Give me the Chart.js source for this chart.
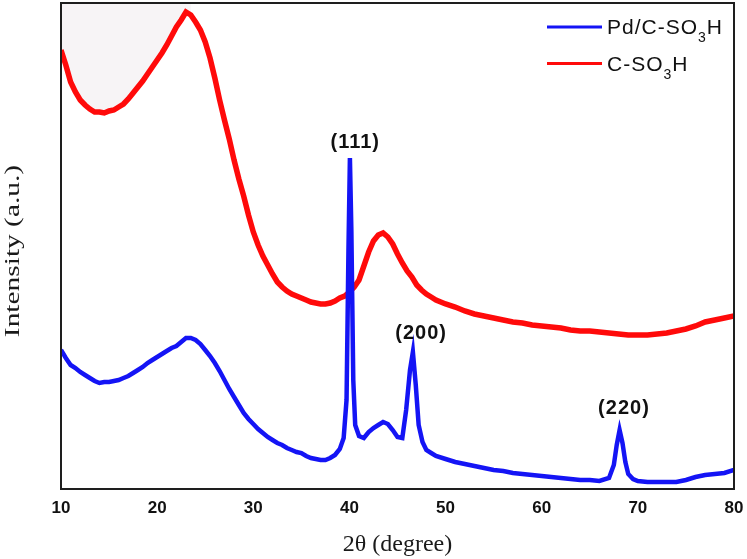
<!DOCTYPE html>
<html>
<head>
<meta charset="utf-8">
<script src="https://cdn.jsdelivr.net/npm/chart.js@4.4.1/dist/chart.umd.min.js"></script>
<style>
  html, body { margin: 0; padding: 0; background: #fff; }
  #wrap { width: 747px; height: 559px; }
</style>
</head>
<body>
<div id="wrap"><canvas id="xrd"></canvas></div>
<script>
// 2-theta positions (degree) and intensities (a.u.)
const redAngles = [
  10, 10.5, 11, 11.5, 12, 12.5, 13, 13.5, 14, 14.5, 15, 15.5, 16, 16.5, 17, 17.5, 18, 18.5, 19, 19.5,
  20, 20.5, 21, 21.5, 22, 22.5, 23, 23.5, 24, 24.5, 25, 25.5, 26, 26.5, 27, 27.5, 28, 28.5, 29, 29.5,
  30, 30.5, 31, 31.5, 32, 32.5, 33, 33.5, 34, 34.5, 35, 35.5, 36, 36.5, 37, 37.5, 38, 38.5, 39, 39.5,
  40, 40.5, 41, 41.5, 42, 42.5, 43, 43.5, 44, 44.5, 45, 45.5, 46, 46.5, 47, 47.5, 48, 48.5,
  49, 50, 51, 52, 53, 54, 55, 56, 57, 58, 59, 60, 61, 62, 63, 64, 65, 66, 67, 68, 69, 70,
  71, 72, 73, 74, 75, 76, 77, 78, 79, 80
];
const redIntensity = [
  878, 848, 814, 794, 778, 768, 760, 754, 754, 752, 756, 758, 764, 770, 780, 792, 804, 816, 830, 844,
  858, 872, 888, 906, 924, 938, 954, 948, 934, 918, 894, 862, 822, 778, 738, 700, 658, 620, 586, 548,
  514, 488, 466, 448, 430, 414, 404, 396, 390, 386, 382, 378, 374, 372, 370, 370, 372, 376, 382, 386,
  394, 404, 418, 446, 474, 496, 508, 512, 504, 490, 470, 452, 436, 424, 408, 398, 390, 384,
  378, 370, 364, 356, 350, 346, 342, 338, 334, 332, 328, 326, 324, 322, 318, 316, 316, 314, 312, 310, 308, 308,
  308, 310, 312, 316, 320, 326, 334, 338, 342, 346
];

const blueAngles = [
  10, 10.5, 11, 11.5, 12, 12.5, 13, 13.5, 14, 14.5, 15, 15.5, 16, 16.5, 17, 17.5, 18, 18.5, 19, 19.5,
  20, 20.5, 21, 21.5, 22, 22.5, 23, 23.5, 24, 24.5, 25, 25.5, 26, 26.5, 27, 27.5, 28, 28.5, 29, 29.5,
  30, 30.5, 31, 31.5, 32, 32.5, 33, 33.5, 34, 34.5, 35, 35.5, 36, 36.5, 37, 37.5, 38, 38.5, 39,
  39.4, 39.7, 39.9, 40.05, 40.2, 40.4, 40.6, 41, 41.5, 42, 42.5, 43, 43.5, 44, 44.5, 45, 45.5,
  45.9, 46.3, 46.6, 46.9, 47.2, 47.6, 48, 48.5, 49, 50, 51, 52, 53, 54, 55, 56, 57, 58, 59, 60,
  61, 62, 63, 64, 65, 66, 67, 67.5, 67.8, 68.1, 68.4, 68.7, 69, 69.5, 70, 71, 72, 73, 74, 75,
  76, 77, 78, 79, 80
];
const blueIntensity = [
  278, 262, 248, 242, 234, 228, 222, 216, 212, 214, 214, 216, 218, 222, 226, 232, 238, 244, 252, 258,
  264, 270, 276, 282, 286, 294, 302, 302, 298, 290, 278, 266, 252, 236, 218, 200, 184, 168, 152, 140,
  130, 120, 112, 104, 98, 92, 88, 82, 78, 74, 72, 66, 62, 60, 58, 58, 62, 68, 80,
  102, 178, 478, 662, 518, 218, 128, 106, 102, 114, 122, 128, 134, 130, 118, 104, 102,
  158, 238, 274, 208, 128, 94, 78, 72, 66, 60, 54, 50, 46, 42, 38, 36, 32, 30, 28, 26,
  24, 22, 20, 18, 18, 16, 22, 48, 88, 118, 92, 54, 30, 20, 16, 14, 14, 14, 14, 18,
  24, 28, 30, 32, 38
];

// Miller index labels over the Pd reflections
const peakLabels = ['(111)', '(200)', '(220)'];
const peakAngles = [40.5, 47.35, 68.45];
const peakLabelLevels = [694, 312, 162];

const xTicks = [10, 20, 30, 40, 50, 60, 70, 80];

const BLUE = '#1414f5';
const RED = '#ff0a0a';

const toPoints = (xs, ys) => xs.map((x, i) => ({ x: x, y: ys[i] }));

// Frame, hand-made legend (subscript 3), peak labels and rotated y title
const decorations = {
  id: 'decorations',
  afterDraw(chart) {
    const ctx = chart.ctx;
    const area = chart.chartArea;
    const xs = chart.scales.x;
    const ys = chart.scales.y;

    ctx.save();
    ctx.strokeStyle = '#1e1e1e';
    ctx.lineWidth = 2;
    ctx.strokeRect(area.left, area.top, area.right - area.left, area.bottom - area.top);

    // peak labels
    ctx.fillStyle = '#111';
    ctx.font = 'bold 20px "Liberation Sans", Arial, sans-serif';
    ctx.letterSpacing = '1px';
    ctx.textAlign = 'center';
    ctx.textBaseline = 'middle';
    peakLabels.forEach((t, i) => {
      ctx.fillText(t, xs.getPixelForValue(peakAngles[i]) + 1, ys.getPixelForValue(peakLabelLevels[i]));
    });

    // legend
    const rows = [chart.data.datasets[0], chart.data.datasets[1]];
    rows.forEach((ds, i) => {
      const cy = 27 + i * 36.5;
      ctx.strokeStyle = ds.borderColor;
      ctx.lineWidth = 3;
      ctx.beginPath();
      ctx.moveTo(547, cy);
      ctx.lineTo(602, cy);
      ctx.stroke();

      const parts = ds.label.split('₃');
      let x = 607;
      ctx.fillStyle = '#111';
      ctx.textAlign = 'left';
      ctx.textBaseline = 'alphabetic';
      ctx.font = '21px "Liberation Sans", Arial, sans-serif';
      ctx.fillText(parts[0], x, cy + 7);
      x += ctx.measureText(parts[0]).width;
      ctx.font = '14px "Liberation Sans", Arial, sans-serif';
      ctx.fillText('3', x, cy + 15);
      x += ctx.measureText('3').width;
      ctx.font = '21px "Liberation Sans", Arial, sans-serif';
      ctx.fillText(parts[1], x, cy + 7);
    });
    ctx.letterSpacing = '0px';

    // y axis title
    ctx.translate(13, 251);
    ctx.rotate(-Math.PI / 2);
    ctx.scale(1.4, 1);
    ctx.fillStyle = '#1a1a1a';
    ctx.font = '21px "Liberation Serif", "Times New Roman", serif';
    ctx.textAlign = 'center';
    ctx.textBaseline = 'middle';
    ctx.fillText('Intensity (a.u.)', 0, 0);
    ctx.restore();
  }
};

new Chart(document.getElementById('xrd'), {
  type: 'line',
  data: {
    datasets: [
      {
        label: 'Pd/C-SO₃H',
        data: toPoints(blueAngles, blueIntensity),
        borderColor: BLUE,
        borderWidth: 4.5,
        pointRadius: 0,
        fill: false,
        order: 0,
      },
      {
        label: 'C-SO₃H',
        data: toPoints(redAngles, redIntensity),
        borderColor: RED,
        borderWidth: 5.5,
        pointRadius: 0,
        fill: false,
        order: 1,
      },
      {
        // faint haze above the C-SO3H curve in the top-left corner
        label: 'haze',
        data: toPoints(redAngles.filter(a => a <= 23.5), redIntensity),
        borderWidth: 0,
        pointRadius: 0,
        backgroundColor: 'rgba(215, 200, 210, 0.2)',
        fill: 'end',
        order: 2,
      },
    ],
  },
  options: {
    responsive: true,
    maintainAspectRatio: false,
    animation: false,
    layout: { padding: { top: 3, right: 13, left: 0, bottom: 0 } },
    plugins: {
      legend: { display: false },
      tooltip: { enabled: false },
    },
    scales: {
      x: {
        type: 'linear',
        min: 10,
        max: 80,
        afterFit: (s) => { s.height = 70; s.paddingLeft = 0; s.paddingRight = 0; },
        afterBuildTicks: (s) => { s.ticks = xTicks.map(v => ({ value: v })); },
        grid: { display: false },
        border: { display: false },
        ticks: {
          color: '#111',
          padding: 1,
          font: { family: '"Liberation Sans", Arial, sans-serif', size: 17, weight: 'bold' },
        },
        title: {
          display: true,
          text: '2θ (degree)',
          color: '#1a1a1a',
          padding: 0,
          font: { family: '"Liberation Serif", "Times New Roman", serif', size: 24 },
        },
      },
      y: {
        min: 0,
        max: 972,
        afterFit: (s) => { s.width = 61; },
        grid: { display: false },
        border: { display: false },
        ticks: { display: false },
      },
    },
  },
  plugins: [decorations],
});
</script>
</body>
</html>
